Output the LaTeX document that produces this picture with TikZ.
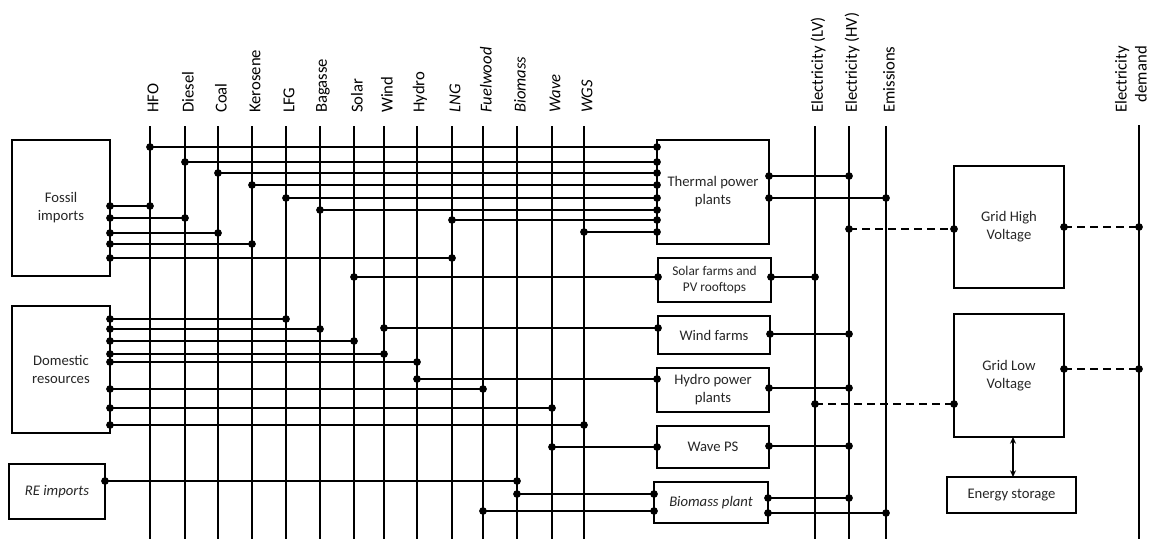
\documentclass[tikz,border=0pt]{standalone}
\usepackage{fontspec}
\setmainfont{Carlito}
\usepackage{tikz}
\usetikzlibrary{arrows.meta,positioning}
\definecolor{inkdark}{HTML}{262626}
\tikzset{
  plantbox/.style 2 args={draw, line width=1.6pt, inner sep=0pt, outer sep=0pt,
    minimum width=#1*0.75pt, minimum height=#2*0.75pt, align=center,
    font=\fontsize{11}{13.5}\selectfont, text=inkdark},
  bus/.style={line width=1.6pt},
  link/.style={line width=1.6pt},
  gridlink/.style={line width=1.6pt, dash pattern=on 6pt off 3.75pt},
  carrier/.style={rotate=90, anchor=west, inner sep=0pt, font=\fontsize{12.5}{15}\selectfont},
}

\begin{document}
\begin{tikzpicture}[x=0.75pt,y=-0.75pt,>={Stealth[length=5pt,width=4.5pt]}]
\useasboundingbox (0,0) rectangle (1150,539);
\foreach \bn/\x/\lab in {hfo/150/HFO,diesel/185/Diesel,coal/218/Coal,kerosene/252/Kerosene,lfg/286/LFG,bagasse/320/Bagasse,solar/354/Solar,wind/384/Wind,hydro/417/Hydro,lng/452/{\itshape LNG},fuelwood/483/{\itshape Fuelwood},biomass/517/{\itshape Biomass},wave/552/{\itshape Wave},wgs/584/{\itshape WGS},elv/815/Electricity (LV),ehv/849/Electricity (HV),emis/886/Emissions}
  {\coordinate (\bn) at (\x,126);
   \draw[bus] (\bn) -- (\x,539);
   \node[carrier] (\bn-lab) at (\x+3,113) {\lab};}
\coordinate (demand) at (1139,125);
\draw[bus] (demand) -- (1139,539);
\node[carrier, align=right] (demand-lab) at (1131,113) {Electricity\\demand};

\node[plantbox={98}{136}] (fossil) at (61,208) {Fossil\\imports};
\node[plantbox={98}{127}] (domestic) at (61,369.5) {Domestic\\resources};
\node[plantbox={96}{55}] (reimp) at (57,491.5) {\itshape RE imports};
\node[plantbox={112}{104}] (thermal) at (713,192) {Thermal power\\plants};
\node[plantbox={113}{44}, font=\fontsize{10}{11.5}\selectfont] (solarpv) at (714.5,280) {Solar farms and\\PV rooftops};
\node[plantbox={112}{38}] (windpark) at (714,335) {Wind farms};
\node[plantbox={112}{44}] (hydroplant) at (713,390) {Hydro power\\plants};
\node[plantbox={112}{42}] (waveps) at (713,447) {Wave PS};
\node[plantbox={114}{41}] (bioplant) at (711,502.5) {\itshape Biomass plant};
\node[plantbox={110}{122}] (gridhv) at (1009,227) {Grid High\\Voltage};
\node[plantbox={110}{123}] (gridlv) at (1009,375.5) {Grid Low\\Voltage};
\node[plantbox={129}{36}] (storage) at (1011.5,495) {Energy storage};

\foreach \bn/\y in {hfo/206,diesel/218,coal/233,kerosene/244,lng/258}
  {\draw[link] (fossil.east |- 0,\y) -- (\bn |- 0,\y);
   \fill (fossil.east |- 0,\y) circle (2.9pt) (\bn |- 0,\y) circle (2.9pt);}
\foreach \bn/\y in {lfg/319,bagasse/329,solar/341,wind/354,hydro/362,fuelwood/389,wave/408,wgs/425}
  {\draw[link] (domestic.east |- 0,\y) -- (\bn |- 0,\y);
   \fill (domestic.east |- 0,\y) circle (2.9pt) (\bn |- 0,\y) circle (2.9pt);}
\draw[link] (reimp.east |- 0,481) -- (biomass |- 0,481);
\fill (reimp.east |- 0,481) circle (2.9pt) (biomass |- 0,481) circle (2.9pt);

\foreach \bn/\y in {hfo/147,diesel/162,coal/173,kerosene/185,lfg/198,bagasse/210,lng/220,wgs/232}
  {\draw[link] (\bn |- 0,\y) -- (thermal.west |- 0,\y);
   \fill (\bn |- 0,\y) circle (2.9pt) (thermal.west |- 0,\y) circle (2.9pt);}
\foreach \bn/\dst/\y in {solar/solarpv/277,wind/windpark/328,hydro/hydroplant/379,wave/waveps/447,biomass/bioplant/494,fuelwood/bioplant/511}
  {\draw[link] (\bn |- 0,\y) -- (\dst.west |- 0,\y);
   \fill (\bn |- 0,\y) circle (2.9pt) (\dst.west |- 0,\y) circle (2.9pt);}

\foreach \src/\bn/\y in {thermal/ehv/176,thermal/emis/198,solarpv/elv/277,windpark/ehv/334,hydroplant/ehv/388,waveps/ehv/446,bioplant/ehv/498,bioplant/emis/513}
  {\draw[link] (\src.east |- 0,\y) -- (\bn |- 0,\y);
   \fill (\src.east |- 0,\y) circle (2.9pt) (\bn |- 0,\y) circle (2.9pt);}

\foreach \a/\b/\y in {ehv/gridhv.west/229,gridhv.east/demand/227,elv/gridlv.west/404,gridlv.east/demand/369}
  {\draw[gridlink] (\a |- 0,\y) -- (\b |- 0,\y);
   \fill (\a |- 0,\y) circle (2.9pt) (\b |- 0,\y) circle (2.9pt);}

\draw[<->, line width=0.8pt] ([xshift=3pt]gridlv.south) -- ([xshift=3pt]gridlv.south |- storage.north);
\end{tikzpicture}
\end{document}
